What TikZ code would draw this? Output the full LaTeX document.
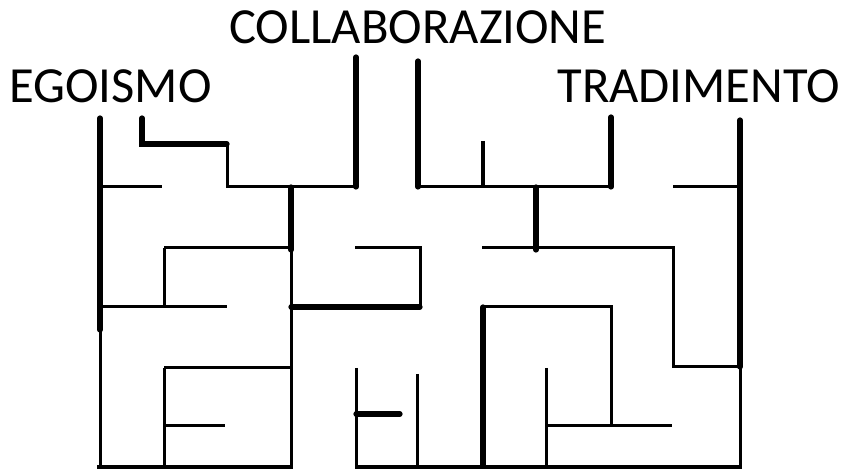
\documentclass[tikz,border=0pt]{standalone}
\usepackage{fontspec}
\setmainfont{Carlito}
\begin{document}
\begin{tikzpicture}[x=0.5pt,y=-0.5pt,
  thickwall/.style={line width=2.6pt,line cap=round,line join=miter},
  thinwall/.style={line width=1.5pt,line cap=butt,line join=miter},
  label/.style={inner sep=0pt,anchor=base west,font=\fontsize{25.3pt}{30pt}\selectfont}]
\useasboundingbox (0,0) rectangle (846,469);
% labels
\node[label] (ego) at (9,103) {EGOISMO};
\node[label] (coll) at (229,44) {COLLABORAZIONE};
\node[label] (trad) at (557,103) {TRADIMENTO};
% thin walls
\draw[thinwall] (100,330)--(100,467);
\draw[thinwall] (227,144)--(227,187)--(356,187);
\draw[thinwall] (100,187)--(162,187);
\draw[thinwall] (291,250)--(291,467);
\draw[thinwall] (164,248)--(291,248);
\draw[thinwall] (164,248)--(164,307);
\draw[thinwall] (100,307)--(227,307);
\draw[thinwall] (418,187)--(611,187);
\draw[line width=2pt] (483,141)--(483,187);
\draw[thinwall] (355,248)--(420,248)--(420,307);
\draw[thinwall] (482,248)--(673,248)--(673,367)--(740,367);
\draw[thinwall] (673,187)--(740,187);
\draw[thinwall] (740,367)--(740,467);
\draw[thinwall] (483,307)--(611,307)--(611,426);
\draw[thinwall] (546,368)--(546,467);
\draw[thinwall] (546,426)--(672,426);
\draw[thinwall] (164,368)--(291,368);
\draw[thinwall] (164,368)--(164,467);
\draw[thinwall] (164,426)--(225,426);
\draw[thinwall] (356,368)--(356,467);
\draw[thinwall] (417,374)--(417,467);
\draw[thinwall,line width=2pt] (97,467)--(293,467);
\draw[thinwall,line width=2pt] (355,467)--(742,467);
% thick walls
\draw[thickwall] (100,118)--(100,330);
\draw[thickwall] (142,118)--(142,144)--(227,144);
\draw[thickwall] (291,187)--(291,250);
\draw[thickwall] (356,57)--(356,187);
\draw[thickwall] (418,61)--(418,187);
\draw[thickwall] (536,187)--(536,250);
\draw[thickwall] (611,117)--(611,187);
\draw[thickwall] (740,120)--(740,367);
\draw[thickwall] (291,307)--(420,307);
\draw[thickwall] (356,414)--(400,414);
\draw[thickwall] (483,307)--(483,467);
\end{tikzpicture}
\end{document}
